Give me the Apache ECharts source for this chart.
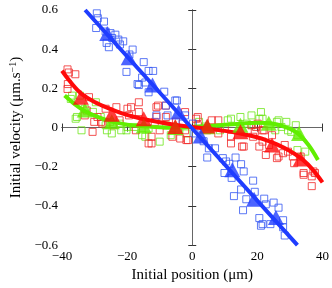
<!DOCTYPE html>
<html><head><meta charset="utf-8">
<script src="https://cdn.jsdelivr.net/npm/echarts@6/dist/echarts.min.js"></script>
<style>html,body{margin:0;padding:0;background:#fff}#c{width:332px;height:288px}</style>
</head><body><div id="c"></div>
<script>
// Axis ticks
const xTicks = [-40, -20, 0, 20, 40];
const yTicks = [-0.6, -0.4, -0.2, 0, 0.2, 0.4, 0.6];

// Blue (squares = individual measurements)
const blueSquares = [
 [-29.3,0.583],[-29.0,0.558],[-27.1,0.541],[-29.5,0.508],[-26.6,0.49],[-25.1,0.482],[-23.6,0.474],
 [-24.6,0.457],[-22.7,0.449],[-21.2,0.44],[-26.3,0.432],[-25.6,0.41],[-22.2,0.424],[-18.3,0.398],
 [-19.3,0.373],[-20.2,0.284],[-14.9,0.334],[-13.4,0.289],[-12.0,0.289],[-15.4,0.255],[-16.4,0.217],
 [-14.4,0.23],[-8.6,0.183],[-4.7,0.138],[-8.1,0.112],[-16.8,0.222],[-13.4,0.18],[-11.0,0.062],
 [-7.6,0.062],[-5.2,0.138],[-2.2,0.062],[0.2,0.02],[0.7,-0.03],[5.1,-0.106],[7.0,-0.106],
 [4.6,-0.153],[9.4,-0.156],[13.3,-0.153],[10.4,-0.173],[15.0,-0.187],[15.8,-0.224],[9.9,-0.232],
 [12.1,-0.257],[18.7,-0.271],[15.0,-0.316],[12.8,-0.35],[19.2,-0.328],[16.6,-0.366],[15.6,-0.422],
 [22.1,-0.363],[22.6,-0.392],[25.0,-0.383],[26.5,-0.409],[20.6,-0.462],[21.6,-0.493],[21.1,-0.501],
 [24.0,-0.493],[27.9,-0.473],[27.9,-0.509],[28.4,-0.551],[11.4,-0.185],[-3.0,0.02],[3.5,-0.07]
];
const blueMeans = [[-26.1,0.48],[-19.5,0.356],[-12.2,0.217],[-4.2,0.079],[2.6,-0.043],[12.3,-0.215],[19.0,-0.366],[25.7,-0.459]];
const blueFit = [[-32.9,0.6],[0,-0.005],[32.3,-0.6]];

// Red
const redSquares = [
 [-38.3,0.297],[-37.9,0.281],[-35.9,0.272],[-38.3,0.197],[-31.7,0.155],[-33.0,0.062],[-30.1,0.029],
 [-30.6,-0.022],[-27.6,0.02],[-29.1,0.054],[-23.3,0.104],[-19.9,0.096],[-19.4,0.062],[-24.2,0.012],
 [-22.3,0.037],[-38.2,0.222],[-32.4,0.087],[-28.0,0.029],[-26.6,0.096],[-16.4,0.129],[-16.4,0.079],
 [-17.3,-0.014],[-12.5,-0.081],[-11.5,0.029],[-10.5,0.112],[-8.1,0.054],[-6.1,-0.047],[-1.8,-0.064],
 [-2.2,-0.014],[-18.8,0.104],[-11.0,0.104],[-11.0,0.054],[-8.1,0.112],[-10.0,-0.014],[-12.5,-0.047],
 [-2.2,0.079],[1.2,0.045],[1.7,0.012],[-3.7,-0.056],[-13.4,-0.081],[6.0,0.037],[8.0,0.037],
 [8.0,-0.03],[11.9,-0.047],[11.9,-0.081],[15.3,-0.097],[18.7,-0.047],[19.6,0.003],[4.6,-0.014],
 [1.7,0.054],[18.2,0.012],[20.1,0.02],[19.2,-0.022],[21.6,-0.014],[24.5,-0.039],[21.6,-0.072],
 [23.6,-0.089],[26.5,-0.148],[27.9,-0.131],[29.4,-0.123],[30.9,-0.148],[33.3,-0.148],[31.3,-0.182],
 [34.2,-0.241],[36.7,-0.249],[37.2,-0.224],[36.7,-0.299],[-1.3,-0.064],[15.8,-0.097],[22.6,-0.14],
 [26.0,-0.156],[20.6,-0.097],[28.4,-0.089],[34.2,-0.232],[37.7,-0.232],[22.1,-0.014],[-5.0,0.03],[10.0,0.0]
];
const redMeans = [[-34.2,0.155],[-24.7,0.068],[-14.9,0.045],[-5.2,0.005],[4.6,0.008],[14.8,-0.022],[24.5,-0.089],[33.3,-0.16]];
const redFit = [[-40,0.29],[-38,0.245],[-36,0.205],[-34,0.172],[-30,0.13],[-26,0.1],[-22,0.075],[-18,0.055],
 [-14,0.04],[-10,0.027],[-6,0.016],[-2,0.007],[2,-0.001],[6,-0.009],[10,-0.017],[14,-0.028],[18,-0.042],
 [22,-0.06],[26,-0.086],[30,-0.12],[34,-0.165],[37,-0.215],[40,-0.28]];

// Green
const greenSquares = [
 [-34.5,0.163],[-36.9,0.163],[-29.6,0.129],[-33.0,0.096],[-35.4,0.054],[-34.0,-0.014],[-28.1,0.054],
 [-25.2,0.029],[-26.2,-0.014],[-24.7,-0.03],[-21.8,-0.014],[-19.9,0.003],[-22.3,0.02],[-37.3,0.146],
 [-35.8,0.045],[-26.6,0.012],[-20.2,-0.014],[-14.4,-0.047],[-13.4,-0.005],[-10.0,-0.072],[-4.2,-0.014],
 [-1.8,-0.03],[-17.8,0.003],[-15.4,-0.039],[-6.6,-0.039],[11.9,0.045],[14.8,0.054],[18.2,0.012],
 [20.6,0.045],[21.1,0.079],[8.5,-0.014],[2.1,0.029],[10.9,0.037],[18.2,0.062],[26.5,0.037],
 [28.9,0.029],[31.8,0.012],[30.4,-0.022],[32.3,-0.039],[16.7,0.02],[27.4,0.003],[32.3,-0.115],
 [34.7,-0.123],[21.6,0.045],[26.0,0.029],[29.4,-0.014],[25.5,-0.014],[-8.0,0.01],[4.0,0.005],[-30.5,0.08]
];
const greenMeans = [[-33.0,0.09],[-24.7,0.03],[-14.9,0.008],[-5.2,0.0],[4.6,0.004],[14.8,0.012],[23.5,0.022],[32.8,-0.03]];
const greenFit = [[-39.2,0.163],[-36,0.118],[-32.5,0.079],[-28,0.048],[-24.7,0.03],[-20,0.015],[-15,0.006],
 [-10,0.001],[-5,0.0],[0,0.003],[5,0.008],[10,0.014],[15,0.02],[20,0.025],[24,0.022],[28,0.006],
 [32,-0.025],[35.7,-0.089],[38.6,-0.165]];

const BLUE = '#1f3dff', RED = '#ff0a0a', GREEN = '#60ee00';
const BLUE_SQ = '#3458f2', RED_SQ = '#f02828', GREEN_SQ = '#6ee61a';
const FONT = 'Liberation Serif';
const fmt = v => String(v).replace('-', '\u2212');

function sq(data, c) {
  return {type:'scatter', data, symbol:'rect', symbolSize:7, silent:true,
    itemStyle:{color:'rgba(255,255,255,0)', borderColor:c, borderWidth:1}, z:2};
}
function tri(data, c) {
  return {type:'scatter', data, symbol:'triangle', symbolSize:[16,15], silent:true,
    itemStyle:{color:c}, z:5};
}
function fit(data, c, smooth) {
  return {type:'line', data, smooth: smooth ? 0.3 : false, showSymbol:false, silent:true,
    lineStyle:{color:c, width:4}, z:4};
}

const axisCommon = {
  axisTick:{inside:true, length:4, lineStyle:{color:'#333'}},
  splitLine:{show:false},
};
const chart = echarts.init(document.getElementById('c'), null, {renderer:'canvas'});
chart.setOption({
  animation:false,
  grid:{left:49, right:9, top:10, bottom:40, containLabel:false},
  xAxis:[
    Object.assign({type:'value', min:xTicks[0], max:xTicks[xTicks.length-1], interval:20, position:'bottom',
      name:'Initial position (\u03bcm)', nameLocation:'middle', nameGap:21,
      nameTextStyle:{fontFamily:FONT, fontSize:15, color:'#000'},
      axisLine:{lineStyle:{color:'#222', width:1}},
      axisLabel:{fontFamily:FONT, fontSize:13, color:'#000', margin:5, formatter:fmt}}, axisCommon),
    Object.assign({type:'value', min:-40, max:40, interval:20, position:'top',
      axisLine:{lineStyle:{color:'#666', width:1}}, axisLabel:{show:false}}, axisCommon)
  ],
  yAxis:[
    Object.assign({type:'value', min:yTicks[0], max:yTicks[yTicks.length-1], interval:0.2, position:'left',
      name:'Initial velocity (\u03bcm.s{sup|\u22121})', nameLocation:'middle', nameGap:33,
      nameTextStyle:{fontFamily:FONT, fontSize:15, color:'#000',
        rich:{sup:{fontFamily:FONT, fontSize:10, color:'#000', verticalAlign:'top', padding:[0,0,6,0]}}},
      axisLine:{lineStyle:{color:'#222', width:1}},
      axisLabel:{fontFamily:FONT, fontSize:13, color:'#000', margin:4,
        formatter:v => fmt(v === 0 ? '0' : v.toFixed(1))}}, axisCommon),
    Object.assign({type:'value', min:-0.6, max:0.6, interval:0.2, position:'right',
      axisLine:{lineStyle:{color:'#666', width:1}}, axisLabel:{show:false}}, axisCommon)
  ],
  series:[
    sq(greenSquares, GREEN_SQ), sq(redSquares, RED_SQ), sq(blueSquares, BLUE_SQ),
    fit(greenFit, GREEN, true), tri(greenMeans, GREEN),
    fit(redFit, RED, true), tri(redMeans, RED),
    fit(blueFit, BLUE, false), tri(blueMeans, BLUE)
  ]
});
</script></body></html>
